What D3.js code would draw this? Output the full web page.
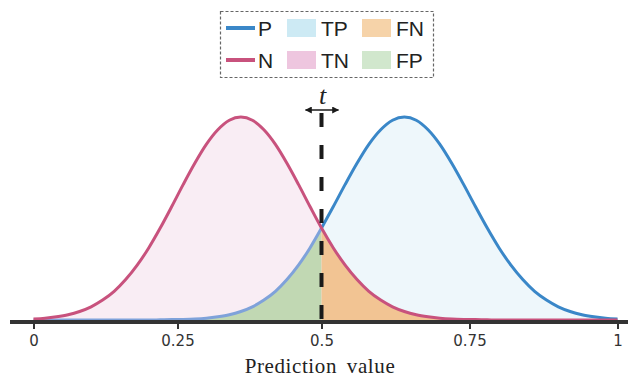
<!DOCTYPE html>
<html>
<head>
<meta charset="utf-8">
<script src="https://cdn.jsdelivr.net/npm/d3@7"></script>
<style>
  html, body { margin: 0; padding: 0; background: #fff; }
  svg { display: block; }
</style>
</head>
<body>
<svg id="chart" width="636" height="379"></svg>
<script>
// Prediction values at which the two class densities are sampled
const predictionValues = [
  0.00, 0.02, 0.04, 0.06, 0.08, 0.10, 0.12, 0.14, 0.16, 0.18,
  0.20, 0.22, 0.24, 0.26, 0.28, 0.30, 0.32, 0.34, 0.36, 0.38,
  0.40, 0.42, 0.44, 0.46, 0.48, 0.50, 0.52, 0.54, 0.56, 0.58,
  0.60, 0.62, 0.64, 0.66, 0.68, 0.70, 0.72, 0.74, 0.76, 0.78,
  0.80, 0.82, 0.84, 0.86, 0.88, 0.90, 0.92, 0.94, 0.96, 0.98, 1.00
];
// Relative density of negative samples (N)
const negativeDensity = [
  0.005, 0.009, 0.016, 0.026, 0.042, 0.065, 0.098, 0.141, 0.199, 0.270,
  0.355, 0.453, 0.559, 0.668, 0.772, 0.865, 0.937, 0.984, 1.000, 0.984,
  0.937, 0.865, 0.772, 0.668, 0.559, 0.453, 0.355, 0.270, 0.199, 0.141,
  0.098, 0.065, 0.042, 0.026, 0.016, 0.009, 0.005, 0.003, 0.002, 0.001,
  0.000, 0.000, 0.000, 0.000, 0.000, 0.000, 0.000, 0.000, 0.000, 0.000, 0.000
];
// Relative density of positive samples (P)
const positiveDensity = [
  0.000, 0.000, 0.000, 0.000, 0.000, 0.000, 0.000, 0.000, 0.000, 0.000,
  0.000, 0.001, 0.002, 0.003, 0.005, 0.009, 0.016, 0.026, 0.042, 0.065,
  0.098, 0.141, 0.199, 0.270, 0.355, 0.453, 0.559, 0.668, 0.772, 0.865,
  0.937, 0.984, 1.000, 0.984, 0.937, 0.865, 0.772, 0.668, 0.559, 0.453,
  0.355, 0.270, 0.199, 0.141, 0.098, 0.065, 0.042, 0.026, 0.016, 0.009, 0.005
];
// Decision threshold t
const threshold = 0.5;

const tickValues = [0, 0.25, 0.5, 0.75, 1];
const tickLabels = ["0", "0.25", "0.5", "0.75", "1"];

const legendLines = [
  { label: "P", color: "#3a87c8" },
  { label: "N", color: "#c8527d" }
];
const legendSwatches = [
  { label: "TP", color: "#cdeaf4", col: 0, row: 0 },
  { label: "FN", color: "#f6d3a9", col: 1, row: 0 },
  { label: "TN", color: "#eec6df", col: 0, row: 1 },
  { label: "FP", color: "#d1e7cd", col: 1, row: 1 }
];

const colors = {
  pLine: "#3a87c8",
  pLineFaded: "#7fa2da",
  nLine: "#c8527d",
  tn: "#f9edf4",
  tp: "#eef7fb",
  fp: "#c1d8b3",
  fn: "#f2c493",
  axis: "#333333",
  text: "#222222"
};

const svg = d3.select("#chart");

const x = d3.scaleLinear().domain([0, 0.5, 1]).range([33.5, 321.5, 617.5]);
const y = d3.scaleLinear().domain([0, 1]).range([320, 117]);

const neg = predictionValues.map((v, i) => ({ x: v, y: negativeDensity[i] }));
const pos = predictionValues.map((v, i) => ({ x: v, y: positiveDensity[i] }));
const leftOf = arr => arr.filter(d => d.x <= threshold);
const rightOf = arr => arr.filter(d => d.x >= threshold);

const area = d3.area()
  .x(d => x(d.x)).y0(y(0)).y1(d => y(d.y))
  .curve(d3.curveMonotoneX);
const line = d3.line()
  .x(d => x(d.x)).y(d => y(d.y))
  .curve(d3.curveMonotoneX);

// Region fills: true negatives / true positives, then the errors on top
svg.append("path").attr("d", area(leftOf(neg))).attr("fill", colors.tn);
svg.append("path").attr("d", area(rightOf(pos))).attr("fill", colors.tp);
svg.append("path").attr("d", area(leftOf(pos))).attr("fill", colors.fp);
svg.append("path").attr("d", area(rightOf(neg))).attr("fill", colors.fn);

// Density curves
svg.append("path").attr("d", line(leftOf(pos)))
  .attr("fill", "none").attr("stroke", colors.pLineFaded).attr("stroke-width", 3);
svg.append("path").attr("d", line(rightOf(pos)))
  .attr("fill", "none").attr("stroke", colors.pLine).attr("stroke-width", 3);
svg.append("path").attr("d", line(neg))
  .attr("fill", "none").attr("stroke", colors.nLine).attr("stroke-width", 3);

// Threshold line
svg.append("line")
  .attr("x1", x(threshold)).attr("x2", x(threshold))
  .attr("y1", 113).attr("y2", y(0))
  .attr("stroke", "#1a1a1a").attr("stroke-width", 4)
  .attr("stroke-dasharray", "14 18");

// Double-headed arrow and t label
const defs = svg.append("defs");
defs.append("marker")
  .attr("id", "head").attr("viewBox", "0 0 10 10")
  .attr("refX", 9).attr("refY", 5)
  .attr("markerWidth", 7).attr("markerHeight", 7)
  .attr("markerUnits", "userSpaceOnUse")
  .attr("orient", "auto-start-reverse")
  .append("path").attr("d", "M0,0 L10,5 L0,10 Z").attr("fill", "#1a1a1a");
svg.append("line")
  .attr("x1", x(threshold) - 16).attr("x2", x(threshold) + 17)
  .attr("y1", 110).attr("y2", 110)
  .attr("stroke", "#1a1a1a").attr("stroke-width", 1.5)
  .attr("marker-start", "url(#head)").attr("marker-end", "url(#head)");
svg.append("text")
  .attr("x", x(threshold) + 1).attr("y", 104)
  .attr("text-anchor", "middle")
  .attr("font-family", "'Liberation Serif', serif")
  .attr("font-style", "italic")
  .attr("font-size", 26)
  .attr("fill", colors.text)
  .text("t");

// Axis baseline
svg.append("line")
  .attr("x1", 10).attr("x2", 628)
  .attr("y1", 322).attr("y2", 322)
  .attr("stroke", colors.axis).attr("stroke-width", 4);

const axis = d3.axisBottom(x)
  .tickValues(tickValues)
  .tickFormat((d, i) => tickLabels[i])
  .tickSize(6)
  .tickPadding(6);
const gAxis = svg.append("g").attr("transform", "translate(0,323)").call(axis);
gAxis.select(".domain").remove();
gAxis.selectAll(".tick line").attr("stroke", colors.axis).attr("stroke-width", 2);
gAxis.selectAll(".tick text")
  .attr("fill", colors.axis)
  .attr("font-family", "'DejaVu Sans', sans-serif")
  .attr("font-size", 15);

svg.append("text")
  .attr("x", 320).attr("y", 373)
  .attr("text-anchor", "middle")
  .attr("font-family", "'Liberation Serif', serif")
  .attr("font-size", 21)
  .attr("word-spacing", 4)
  .attr("letter-spacing", 0.6)
  .attr("fill", colors.text)
  .text("Prediction value");

// Legend
const legend = svg.append("g");
legend.append("rect")
  .attr("x", 220.5).attr("y", 11.5).attr("width", 213).attr("height", 66)
  .attr("fill", "#fff").attr("stroke", "#666").attr("stroke-width", 1.2)
  .attr("stroke-dasharray", "3 2");
const rowY = [28, 60];
legendLines.forEach((d, i) => {
  legend.append("line")
    .attr("x1", 226).attr("x2", 255)
    .attr("y1", rowY[i]).attr("y2", rowY[i])
    .attr("stroke", d.color).attr("stroke-width", 4);
  legend.append("text")
    .attr("x", 258).attr("y", rowY[i] + 8)
    .attr("font-family", "'Liberation Sans', Arial, sans-serif")
    .attr("font-size", 21).attr("fill", colors.text)
    .text(d.label);
});
const colX = [287, 362];
legendSwatches.forEach(d => {
  legend.append("rect")
    .attr("x", colX[d.col]).attr("y", rowY[d.row] - 9)
    .attr("width", 29).attr("height", 18)
    .attr("fill", d.color);
  legend.append("text")
    .attr("x", colX[d.col] + 34).attr("y", rowY[d.row] + 8)
    .attr("font-family", "'Liberation Sans', Arial, sans-serif")
    .attr("font-size", 21).attr("fill", colors.text)
    .text(d.label);
});
</script>
</body>
</html>
